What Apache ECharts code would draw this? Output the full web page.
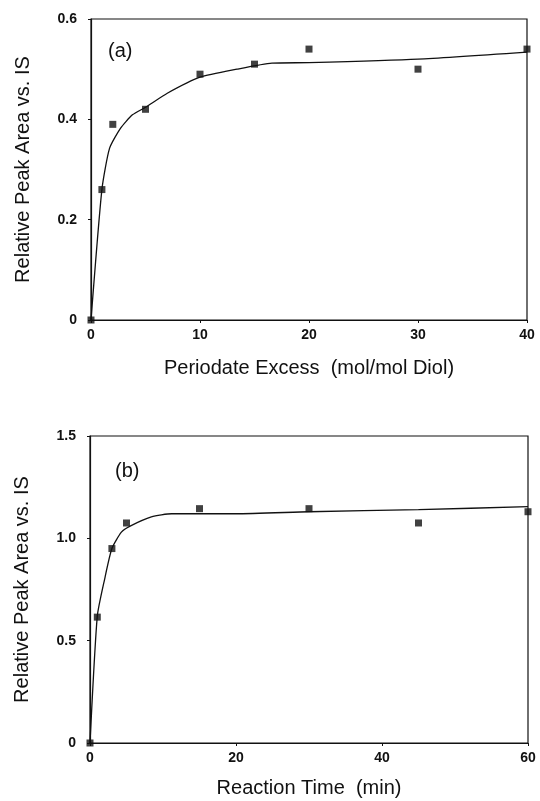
<!DOCTYPE html>
<html>
<head>
<meta charset="utf-8">
<script src="https://cdn.jsdelivr.net/npm/echarts@6/dist/echarts.min.js"></script>
<style>
  html, body { margin: 0; padding: 0; background: #fff; }
  #chart { width: 540px; height: 801px; }
</style>
</head>
<body>
<div id="chart"></div>
<script>
// panel (a): periodate excess
const excessX = [0, 1, 2, 5, 10, 15, 20, 30, 40];
const excessY = [0, 0.26, 0.39, 0.42, 0.49, 0.51, 0.54, 0.50, 0.54];
const excessFitX = [0, 1, 1.7, 2.7, 3.8, 5, 7, 10, 13.4, 16.6, 20, 30, 40];
const excessFitY = [0, 0.26, 0.342, 0.382, 0.409, 0.424, 0.452, 0.484, 0.5, 0.512, 0.513, 0.52, 0.534];

// panel (b): reaction time
const timeX = [0, 1, 3, 5, 15, 30, 45, 60];
const timeY = [0, 0.615, 0.95, 1.075, 1.145, 1.145, 1.075, 1.13];
const timeFitX = [0, 1, 2, 3, 4.3, 5.5, 8.4, 11.2, 20, 30, 45, 60];
const timeFitY = [0, 0.62, 0.8, 0.95, 1.03, 1.06, 1.105, 1.12, 1.12, 1.13, 1.14, 1.155];

const pairs = (xs, ys) => xs.map((x, i) => [x, ys[i]]);

const font = "'Liberation Sans', Arial, sans-serif";
const ink = "#111";

function xAxis(idx, max, interval, name, gap) {
  return {
    gridIndex: idx, type: "value", min: 0, max: max, interval: interval,
    name: name, nameLocation: "middle", nameGap: gap,
    nameTextStyle: { fontFamily: font, fontSize: 20, color: ink },
    axisLine: { lineStyle: { color: ink, width: 1.2 } },
    axisTick: { length: 3, lineStyle: { color: ink } },
    axisLabel: { fontFamily: font, fontSize: 14, fontWeight: "bold", color: ink, margin: 8 },
    splitLine: { show: false }
  };
}

function yAxis(idx, max, interval, fmt) {
  return {
    gridIndex: idx, type: "value", min: 0, max: max, interval: interval,
    name: "Relative Peak Area vs. IS", nameLocation: "middle", nameGap: 58,
    nameTextStyle: { fontFamily: font, fontSize: 20, color: ink },
    axisLine: { lineStyle: { color: ink, width: 1.2 } },
    axisTick: { length: 3, lineStyle: { color: ink } },
    axisLabel: { fontFamily: font, fontSize: 14, fontWeight: "bold", color: ink, margin: 14, formatter: fmt },
    splitLine: { show: false }
  };
}

const chart = echarts.init(document.getElementById("chart"));
chart.setOption({
  backgroundColor: "#fff",
  animation: false,
  title: [
    { text: "(a)", left: 103, top: 36, textStyle: { fontFamily: font, fontSize: 20, fontWeight: "normal", color: ink } },
    { text: "(b)", left: 110, top: 456, textStyle: { fontFamily: font, fontSize: 20, fontWeight: "normal", color: ink } }
  ],
  grid: [
    { left: 91, right: 13, top: 19, height: 301, show: true, borderColor: ink, borderWidth: 1.2, backgroundColor: "transparent" },
    { left: 90, right: 12, top: 436, height: 307, show: true, borderColor: ink, borderWidth: 1.2, backgroundColor: "transparent" }
  ],
  xAxis: [
    xAxis(0, 40, 10, "Periodate Excess  (mol/mol Diol)", 38),
    xAxis(1, 60, 20, "Reaction Time  (min)", 35)
  ],
  yAxis: [
    yAxis(0, 0.6, 0.2, v => (v === 0 ? "0" : v.toFixed(1))),
    yAxis(1, 1.5, 0.5, v => (v === 0 ? "0" : v.toFixed(1)))
  ],
  series: [
    {
      type: "line", xAxisIndex: 0, yAxisIndex: 0, data: pairs(excessFitX, excessFitY),
      showSymbol: false, smooth: 0.2, lineStyle: { color: ink, width: 1.3 }
    },
    {
      type: "scatter", xAxisIndex: 0, yAxisIndex: 0, data: pairs(excessX, excessY),
      symbol: "rect", symbolSize: 7, itemStyle: { color: ink }
    },
    {
      type: "line", xAxisIndex: 1, yAxisIndex: 1, data: pairs(timeFitX, timeFitY),
      showSymbol: false, smooth: 0.2, lineStyle: { color: ink, width: 1.3 }
    },
    {
      type: "scatter", xAxisIndex: 1, yAxisIndex: 1, data: pairs(timeX, timeY),
      symbol: "rect", symbolSize: 7, itemStyle: { color: ink }
    }
  ]
});
</script>
</body>
</html>
